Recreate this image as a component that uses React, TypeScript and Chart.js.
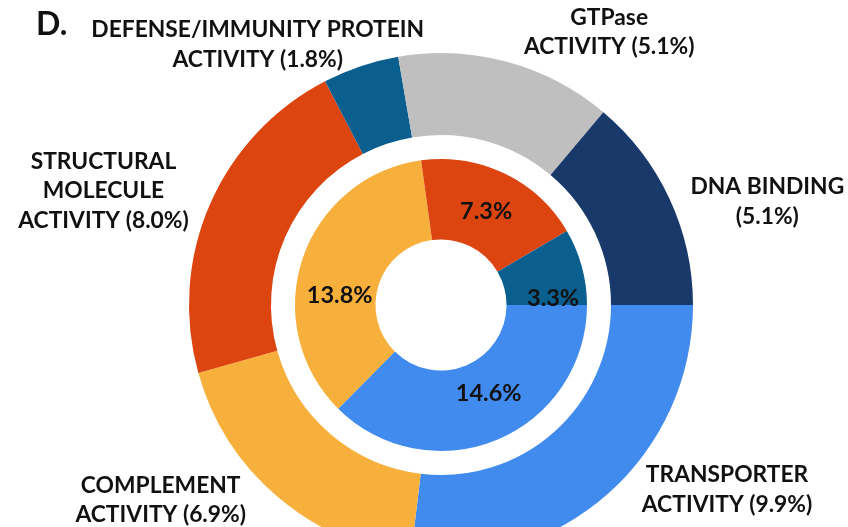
import React, { useEffect, useRef } from 'react';
import { Chart, registerables } from 'chart.js';

Chart.register(...registerables);

// ---- data ----
const outerCategories = [
  'TRANSPORTER ACTIVITY',
  'COMPLEMENT ACTIVITY',
  'STRUCTURAL MOLECULE ACTIVITY',
  'DEFENSE/IMMUNITY PROTEIN ACTIVITY',
  'GTPase ACTIVITY',
  'DNA BINDING',
];
const outerValues = [9.9, 6.9, 8.0, 1.8, 5.1, 5.1];
const outerLabelLines = [
  ['TRANSPORTER', 'ACTIVITY'],
  ['COMPLEMENT', 'ACTIVITY'],
  ['STRUCTURAL', 'MOLECULE', 'ACTIVITY'],
  ['DEFENSE/IMMUNITY PROTEIN', 'ACTIVITY'],
  ['GTPase', 'ACTIVITY'],
  ['DNA BINDING', ''],
];
const innerCategories = [
  'TRANSPORTER ACTIVITY',
  'COMPLEMENT ACTIVITY',
  'STRUCTURAL MOLECULE ACTIVITY',
  'DEFENSE/IMMUNITY PROTEIN ACTIVITY',
];
const innerValues = [14.6, 13.8, 7.3, 3.3];
const panelTitle = 'D.';

// ---- styles ----
const outerColors = ['#418BEE', '#F8B03D', '#DC4410', '#0B5F8F', '#BFBFBF', '#18396A'];
const innerColors = ['#418BEE', '#F8B03D', '#DC4410', '#0B5F8F'];
// label block offsets (px) from each arc's centroid
const outerLabelOffsets = [
  [146, 26],
  [-143, 34],
  [-144, -31],
  [-116, -61],
  [113, -70],
  [135, -15],
];
const innerLabelOffsets = [
  [7, -10],
  [-1, 23],
  [-1, 1],
  [10, 20],
];
const FONT = 'Lato, "Open Sans", sans-serif';
const LABEL_SIZE = 22.8;
const INNER_SIZE = 23.5;
const LINE_H = 29.5;
const TEXT_COLOR = '#111111';

const fmt = (v: number) => `${v.toFixed(1)}%`;

const labelPlugin = {
  id: 'ringLabels',
  afterDatasetsDraw(chart: any) {
    const ctx = chart.ctx as CanvasRenderingContext2D;
    ctx.save();
    ctx.fillStyle = TEXT_COLOR;
    ctx.textAlign = 'center';
    ctx.textBaseline = 'alphabetic';

    const centroid = (arc: any) => {
      const p = arc.getProps(['x', 'y', 'startAngle', 'endAngle', 'innerRadius', 'outerRadius'], true);
      const mid = (p.startAngle + p.endAngle) / 2;
      const r = (p.innerRadius + p.outerRadius) / 2;
      return { x: p.x + Math.cos(mid) * r, y: p.y + Math.sin(mid) * r };
    };

    // outer ring labels
    ctx.font = `bold ${LABEL_SIZE}px ${FONT}`;
    const capHalf = LABEL_SIZE * 0.36;
    const outerMeta = chart.getDatasetMeta(0);
    outerMeta.data.forEach((arc: any, i: number) => {
      const c = centroid(arc);
      const lines = outerLabelLines[i].slice();
      const last = lines.length - 1;
      lines[last] = lines[last] ? `${lines[last]} (${fmt(outerValues[i])})` : `(${fmt(outerValues[i])})`;
      const cx = c.x + outerLabelOffsets[i][0];
      const cy = c.y + outerLabelOffsets[i][1];
      lines.forEach((t, k) => {
        const y = cy + (k - (lines.length - 1) / 2) * LINE_H;
        ctx.fillText(t, cx, y + capHalf);
      });
    });

    // inner ring labels
    ctx.font = `bold ${INNER_SIZE}px ${FONT}`;
    const capHalfIn = INNER_SIZE * 0.36;
    const innerMeta = chart.getDatasetMeta(2);
    innerMeta.data.forEach((arc: any, i: number) => {
      const c = centroid(arc);
      ctx.fillText(fmt(innerValues[i]), c.x + innerLabelOffsets[i][0], c.y + innerLabelOffsets[i][1] + capHalfIn);
    });

    // panel title
    ctx.textAlign = 'left';
    ctx.font = `bold 32px ${FONT}`;
    ctx.fillText(panelTitle, 36, 35);
    ctx.restore();
  },
};

export default function App() {
  const ref = useRef<HTMLCanvasElement | null>(null);

  useEffect(() => {
    if (!ref.current) return;
    const chart = new Chart(ref.current, {
      type: 'doughnut',
      data: {
        labels: outerCategories,
        datasets: [
          {
            label: 'outer',
            data: outerValues,
            backgroundColor: outerColors,
            borderWidth: 0,
            weight: 82,
          },
          {
            label: 'gap',
            data: [1],
            backgroundColor: ['rgba(0,0,0,0)'],
            borderWidth: 0,
            weight: 24,
          },
          {
            label: 'inner',
            data: innerValues,
            backgroundColor: innerColors,
            borderWidth: 0,
            weight: 80.5,
          },
        ],
      },
      options: {
        responsive: false,
        animation: false,
        devicePixelRatio: 1,
        rotation: 90,
        radius: 252,
        cutout: '26%',
        layout: { padding: { left: 34, top: 83, right: 0, bottom: 0 } },
        plugins: {
          legend: { display: false },
          tooltip: { enabled: false },
        },
        events: [],
      } as any,
      plugins: [labelPlugin],
    });
    return () => chart.destroy();
  }, []);

  return (
    <div
      style={{
        position: 'fixed',
        left: 0,
        top: 0,
        width: 848,
        height: 527,
        overflow: 'hidden',
        background: '#ffffff',
      }}
    >
      <canvas ref={ref} width={848} height={527} style={{ width: 848, height: 527, display: 'block' }} />
    </div>
  );
}
